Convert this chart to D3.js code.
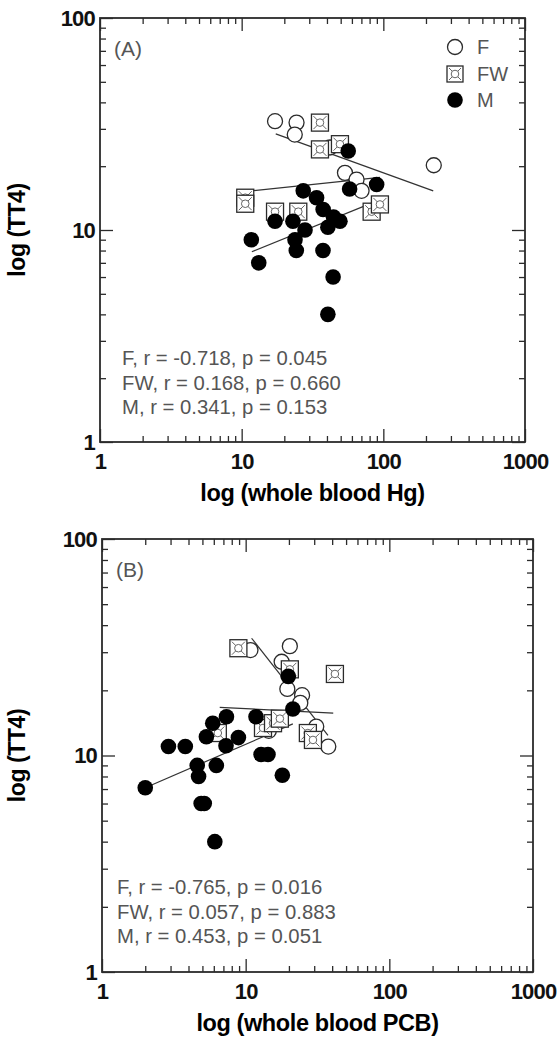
<!DOCTYPE html>
<html>
<head>
<meta charset="utf-8">
<script src="https://cdn.jsdelivr.net/npm/d3@7"></script>
<style>
  body { margin: 0; background: #fff; }
  svg { display: block; }
  text { font-family: "Liberation Sans", Arial, sans-serif; }
</style>
</head>
<body>
<div id="chart"></div>
<script>
// ---- panel A : whole blood Hg ----
const hgF_x  = [17.2, 24.4, 23.7, 42, 53.6, 64.7, 70.2, 227]
const hgF_y  = [32.6, 32.1, 28.2, 24.5, 18.6, 17.3, 15.3, 20.2]
const hgFW_x = [35.7, 35.7, 49.4, 10.6, 10.6, 17.2, 25.1, 82.7, 94.6]
const hgFW_y = [32.1, 24.0, 25.4, 14.2, 13.3, 12.2, 12.2, 12.2, 13.2]
const hgM_x  = [56.5, 89.7, 57.8, 27.2, 33.8, 37.6, 17.2, 23.0, 28.0, 40.6, 49.4, 44.5, 11.7, 23.8, 13.2, 24.3, 37.5, 44.2, 40.6]
const hgM_y  = [23.6, 16.4, 15.6, 15.3, 14.2, 12.5, 11.0, 11.0, 10.0, 10.3, 11.0, 11.5, 9.0, 9.0, 7.0, 8.0, 8.0, 6.0, 4.0]
// regression lines, [start, end] as [x, y]
const hgFitF  = [[17.4, 28.4], [225, 15.3]]
const hgFitFW = [[10.6, 15.2], [94.6, 17.7]]
const hgFitM  = [[11.8, 7.9], [92.2, 13.8]]
const hgStats = ["F, r = -0.718, p = 0.045", "FW, r = 0.168, p = 0.660", "M, r = 0.341, p = 0.153"]

// ---- panel B : whole blood PCB ----
const pcbF_x  = [10.8, 20.3, 17.8, 19.5, 24.7, 24.0, 37.6, 31, 14.5]
const pcbF_y  = [30.7, 32.0, 27.1, 20.3, 19.0, 17.5, 11.0, 13.6, 13.0]
const pcbFW_x = [8.9, 20.3, 41.8, 27.1, 29.4, 13.2, 15.5, 17.3, 6.4]
const pcbFW_y = [31.3, 25.0, 23.8, 12.7, 11.8, 13.4, 14.1, 14.8, 12.7]
const pcbM_x  = [2.0, 2.9, 3.8, 4.6, 4.7, 4.9, 5.15, 6.1, 5.33, 5.9, 7.35, 7.3, 8.9, 11.8, 6.25, 12.8, 14.3, 18.0, 21.3, 19.8]
const pcbM_y  = [7.1, 11.0, 11.0, 9.0, 8.0, 6.0, 6.0, 4.0, 12.2, 14.1, 15.1, 11.1, 12.1, 15.1, 9.0, 10.1, 10.1, 8.1, 16.4, 23.2]
const pcbFitF  = [[11.0, 34.8], [37.4, 12.4]]
const pcbFitFW = [[6.6, 16.7], [40.7, 15.7]]
const pcbFitM  = [[2.0, 7.1], [21.3, 14.0]]
const pcbStats = ["F, r = -0.765, p = 0.016", "FW, r = 0.057, p = 0.883", "M, r = 0.453, p = 0.051"]

const xTicks = [1, 10, 100, 1000]
const yTicks = [1, 10, 100]
const legendNames = ["F", "FW", "M"]

const WIDTH = 560, HEIGHT = 1043
const INK = "#2b2b2b", SOFT = "#555"

const svg = d3.select("#chart").append("svg")
    .attr("width", WIDTH)
    .attr("height", HEIGHT)

svg.append("rect").attr("width", WIDTH).attr("height", HEIGHT).attr("fill", "#fff")

function minorOf(domain) {
    const out = []
    for (let e = Math.log10(domain[0]); e < Math.log10(domain[1]); e++)
        for (let k = 2; k < 10; k++) out.push(k * Math.pow(10, e))
    return out
}

function fwSymbol(sel, s) {
    const h = s / 2
    sel.append("rect").attr("x", -h).attr("y", -h).attr("width", s).attr("height", s)
        .attr("fill", "#fff").attr("stroke", INK).attr("stroke-width", 1.3)
    sel.append("path").attr("d", `M${-h + 2},${-h + 2}L${h - 2},${h - 2}M${h - 2},${-h + 2}L${-h + 2},${h - 2}`)
        .attr("stroke", "#666").attr("stroke-width", 1)
    sel.append("circle").attr("r", 3.8).attr("fill", "#fff").attr("stroke", "#666").attr("stroke-width", 1)
}

function drawPanel(p) {
    const x = d3.scaleLog().domain([1, 1000]).range([p.left, p.right])
    const y = d3.scaleLog().domain([1, 100]).range([p.bottom, p.top])
    const g = svg.append("g")

    const MAJOR = 13, MINOR = 6
    const minX = minorOf(x.domain()), minY = minorOf(y.domain())

    const axes = [
        [d3.axisBottom, `translate(0,${p.bottom})`, x, minX, xTicks, true],
        [d3.axisTop, `translate(0,${p.top})`, x, minX, xTicks, false],
        [d3.axisLeft, `translate(${p.left},0)`, y, minY, yTicks, true],
        [d3.axisRight, `translate(${p.right},0)`, y, minY, yTicks, false]
    ]
    axes.forEach(([fn, tr, sc, minors, majors, labels]) => {
        const a = g.append("g").attr("transform", tr)
        a.append("g").call(fn(sc).tickValues(minors).tickSize(-MINOR).tickSizeOuter(0).tickFormat(""))
        a.append("g").call(fn(sc).tickValues(majors).tickSize(-MAJOR).tickSizeOuter(0)
            .tickPadding(fn === d3.axisBottom ? 11 : 5)
            .tickFormat(labels ? d3.format("d") : ""))
        a.selectAll(".domain").remove()
        a.selectAll("line").attr("stroke", INK).attr("stroke-width", 1.3)
        a.selectAll("text")
            .attr("font-family", "'Liberation Sans', Arial, sans-serif")
            .attr("font-size", 22)
            .attr("font-weight", "bold")
            .attr("letter-spacing", -0.8)
            .attr("fill", "#111")
    })

    g.append("rect")
        .attr("x", p.left).attr("y", p.top)
        .attr("width", p.right - p.left).attr("height", p.bottom - p.top)
        .attr("fill", "none").attr("stroke", INK).attr("stroke-width", 1.8)

    // axis titles
    g.append("text")
        .attr("x", (p.left + p.right) / 2)
        .attr("y", p.bottom + 59)
        .attr("text-anchor", "middle")
        .attr("font-size", 23.5)
        .attr("font-weight", "bold")
        .attr("letter-spacing", -0.4)
        .text(p.xTitle)

    g.append("text")
        .attr("transform", `translate(25,${(p.top + p.bottom) / 2}) rotate(-90)`)
        .attr("text-anchor", "middle")
        .attr("font-size", 23)
        .attr("font-weight", "bold")
        .attr("letter-spacing", -0.4)
        .text("log (TT4)")

    g.append("text")
        .attr("x", p.left + 14).attr("y", p.top + 38)
        .attr("font-size", 21).attr("fill", SOFT)
        .text(p.tag)

    // regression lines
    const line = d3.line().x(d => x(d[0])).y(d => y(d[1]))
    ;[p.fitF, p.fitFW, p.fitM].forEach(f => {
        g.append("path").attr("d", line(f))
            .attr("fill", "none").attr("stroke", "#333").attr("stroke-width", 1.2)
    })

    // points
    g.selectAll(".ptF").data(d3.zip(p.fx, p.fy)).join("circle")
        .attr("class", "ptF")
        .attr("cx", d => x(d[0])).attr("cy", d => y(d[1])).attr("r", 7.5)
        .attr("fill", "#fff").attr("stroke", INK).attr("stroke-width", 1.3)

    g.selectAll(".ptFW").data(d3.zip(p.fwx, p.fwy)).join("g")
        .attr("class", "ptFW")
        .attr("transform", d => `translate(${x(d[0])},${y(d[1])})`)
        .call(fwSymbol, 17)

    g.selectAll(".ptM").data(d3.zip(p.mx, p.my)).join("circle")
        .attr("class", "ptM")
        .attr("cx", d => x(d[0])).attr("cy", d => y(d[1])).attr("r", 7.8)
        .attr("fill", "#000")

    // stats text
    g.selectAll(".stat").data(p.stats).join("text")
        .attr("class", "stat")
        .attr("x", p.left + p.statDx)
        .attr("y", (d, i) => p.statY + i * 24.5)
        .attr("font-size", 20.3)
        .attr("fill", SOFT)
        .text(d => d)

    // legend
    if (p.legend) {
        const lg = g.append("g").attr("transform", `translate(455,${p.top + 29})`)
        lg.append("circle").attr("r", 7.5).attr("fill", "#fff").attr("stroke", INK).attr("stroke-width", 1.3)
        fwSymbol(lg.append("g").attr("transform", "translate(0,27)"), 16)
        lg.append("circle").attr("cy", 53).attr("r", 7.8).attr("fill", "#000")
        lg.selectAll(".lgt").data(legendNames).join("text")
            .attr("class", "lgt")
            .attr("x", 22).attr("y", (d, i) => i * 26.5 + 7)
            .attr("font-size", 20).attr("fill", SOFT)
            .text(d => d)
    }
}

drawPanel({
    left: 100, right: 525, top: 18, bottom: 442,
    xTitle: "log (whole blood Hg)", tag: "(A)", legend: true,
    fx: hgF_x, fy: hgF_y, fwx: hgFW_x, fwy: hgFW_y, mx: hgM_x, my: hgM_y,
    fitF: hgFitF, fitFW: hgFitFW, fitM: hgFitM,
    stats: hgStats, statDx: 22, statY: 365
})

drawPanel({
    left: 102, right: 533, top: 539, bottom: 972,
    xTitle: "log (whole blood PCB)", tag: "(B)", legend: false,
    fx: pcbF_x, fy: pcbF_y, fwx: pcbFW_x, fwy: pcbFW_y, mx: pcbM_x, my: pcbM_y,
    fitF: pcbFitF, fitFW: pcbFitFW, fitM: pcbFitM,
    stats: pcbStats, statDx: 15, statY: 894
})
</script>
</body>
</html>
